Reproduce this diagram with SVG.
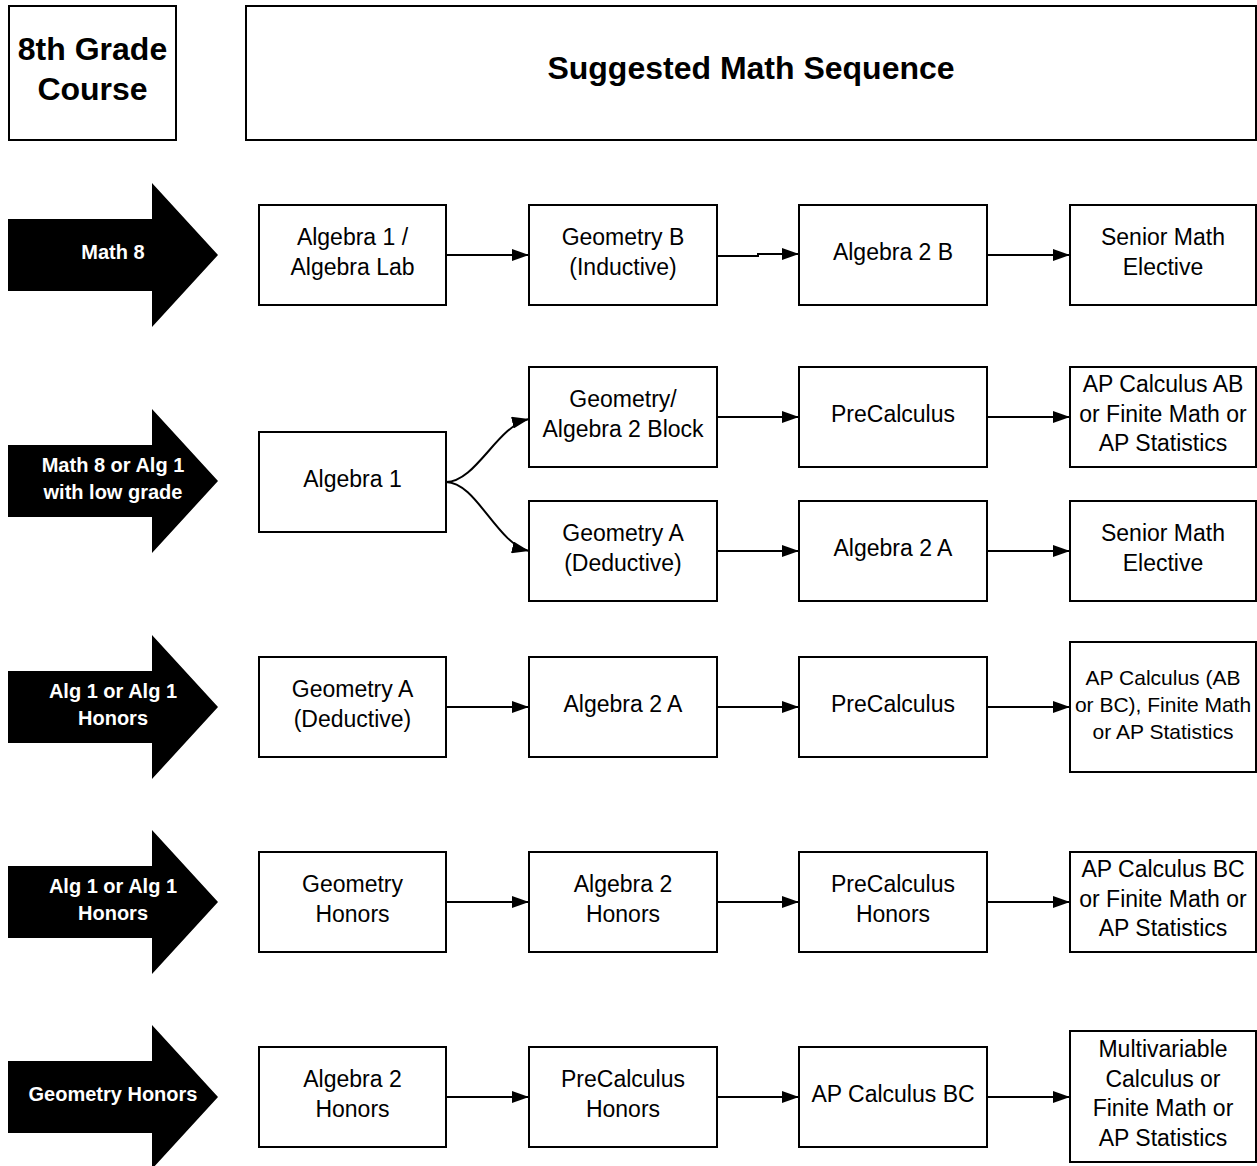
<svg xmlns="http://www.w3.org/2000/svg" width="1257" height="1166" viewBox="0 0 1257 1166">
<defs>
<marker id="ah" markerUnits="userSpaceOnUse" markerWidth="17" markerHeight="12" refX="17" refY="6" orient="auto">
<path d="M0,0 L17,6 L0,12 z" fill="#000"/>
</marker>
</defs>
<style>
.box{fill:#fff;stroke:#000;stroke-width:2}
.t{font-family:"Liberation Sans",Arial,sans-serif;font-size:23px;fill:#000;text-anchor:middle}
.ts{font-family:"Liberation Sans",Arial,sans-serif;font-size:21px;fill:#000;text-anchor:middle}
.h{font-family:"Liberation Sans",Arial,sans-serif;font-size:32px;font-weight:bold;fill:#000;text-anchor:middle}
.al{font-family:"Liberation Sans",Arial,sans-serif;font-size:20px;font-weight:bold;fill:#fff;text-anchor:middle}
.arr{fill:#000}
.c{fill:none;stroke:#000;stroke-width:2;marker-end:url(#ah)}
</style>
<rect width="1257" height="1166" fill="#fff"/>

<g id="hdr-course">
<rect class="box" x="9" y="6" width="167" height="134"/>
<text class="h" x="92.5" y="60">8th Grade</text>
<text class="h" x="92.5" y="100">Course</text>
</g>
<g id="hdr-seq">
<rect class="box" x="246" y="6" width="1010" height="134"/>
<text class="h" x="751" y="79">Suggested Math Sequence</text>
</g>

<g id="start1">
<path class="arr" d="M8,219 H152 V183 L218,255 L152,327 V291 H8 z"/>
<text class="al" x="113" y="259">Math 8</text>
</g>
<g id="start2">
<path class="arr" d="M8,445 H152 V409 L218,481 L152,553 V517 H8 z"/>
<text class="al" x="113" y="471.5">Math 8 or Alg 1</text>
<text class="al" x="113" y="498.5">with low grade</text>
</g>
<g id="start3">
<path class="arr" d="M8,671 H152 V635 L218,707 L152,779 V743 H8 z"/>
<text class="al" x="113" y="698">Alg 1 or Alg 1</text>
<text class="al" x="113" y="725">Honors</text>
</g>
<g id="start4">
<path class="arr" d="M8,866 H152 V830 L218,902 L152,974 V938 H8 z"/>
<text class="al" x="113" y="893">Alg 1 or Alg 1</text>
<text class="al" x="113" y="920">Honors</text>
</g>
<g id="start5">
<path class="arr" d="M8,1061 H152 V1025 L218,1097 L152,1169 V1133 H8 z"/>
<text class="al" x="113" y="1101">Geometry Honors</text>
</g>

<!-- Row 1 -->
<g id="r1c1"><rect class="box" x="259" y="205" width="187" height="100"/>
<text class="t" x="352.5" y="245">Algebra 1 /</text><text class="t" x="352.5" y="274.5">Algebra Lab</text></g>
<g id="r1c2"><rect class="box" x="529" y="205" width="188" height="100"/>
<text class="t" x="623" y="245">Geometry B</text><text class="t" x="623" y="274.5">(Inductive)</text></g>
<g id="r1c3"><rect class="box" x="799" y="205" width="188" height="100"/>
<text class="t" x="893" y="260">Algebra 2 B</text></g>
<g id="r1c4"><rect class="box" x="1070" y="205" width="186" height="100"/>
<text class="t" x="1163" y="245">Senior Math</text><text class="t" x="1163" y="274.5">Elective</text></g>

<!-- Row 2 -->
<g id="r2c1"><rect class="box" x="259" y="432" width="187" height="100"/>
<text class="t" x="352.5" y="487">Algebra 1</text></g>
<g id="r2c2a"><rect class="box" x="529" y="367" width="188" height="100"/>
<text class="t" x="623" y="407">Geometry/</text><text class="t" x="623" y="436.5">Algebra 2 Block</text></g>
<g id="r2c3a"><rect class="box" x="799" y="367" width="188" height="100"/>
<text class="t" x="893" y="422">PreCalculus</text></g>
<g id="r2c4a"><rect class="box" x="1070" y="367" width="186" height="100"/>
<text class="t" x="1163" y="392">AP Calculus AB</text><text class="t" x="1163" y="421.5">or Finite Math or</text><text class="t" x="1163" y="451">AP Statistics</text></g>
<g id="r2c2b"><rect class="box" x="529" y="501" width="188" height="100"/>
<text class="t" x="623" y="541">Geometry A</text><text class="t" x="623" y="570.5">(Deductive)</text></g>
<g id="r2c3b"><rect class="box" x="799" y="501" width="188" height="100"/>
<text class="t" x="893" y="556">Algebra 2 A</text></g>
<g id="r2c4b"><rect class="box" x="1070" y="501" width="186" height="100"/>
<text class="t" x="1163" y="541">Senior Math</text><text class="t" x="1163" y="570.5">Elective</text></g>

<!-- Row 3 -->
<g id="r3c1"><rect class="box" x="259" y="657" width="187" height="100"/>
<text class="t" x="352.5" y="697">Geometry A</text><text class="t" x="352.5" y="726.5">(Deductive)</text></g>
<g id="r3c2"><rect class="box" x="529" y="657" width="188" height="100"/>
<text class="t" x="623" y="712">Algebra 2 A</text></g>
<g id="r3c3"><rect class="box" x="799" y="657" width="188" height="100"/>
<text class="t" x="893" y="712">PreCalculus</text></g>
<g id="r3c4"><rect class="box" x="1070" y="642" width="186" height="130"/>
<text class="ts" x="1163" y="685">AP Calculus (AB</text><text class="ts" x="1163" y="712">or BC), Finite Math</text><text class="ts" x="1163" y="739">or AP Statistics</text></g>

<!-- Row 4 -->
<g id="r4c1"><rect class="box" x="259" y="852" width="187" height="100"/>
<text class="t" x="352.5" y="892">Geometry</text><text class="t" x="352.5" y="921.5">Honors</text></g>
<g id="r4c2"><rect class="box" x="529" y="852" width="188" height="100"/>
<text class="t" x="623" y="892">Algebra 2</text><text class="t" x="623" y="921.5">Honors</text></g>
<g id="r4c3"><rect class="box" x="799" y="852" width="188" height="100"/>
<text class="t" x="893" y="892">PreCalculus</text><text class="t" x="893" y="921.5">Honors</text></g>
<g id="r4c4"><rect class="box" x="1070" y="852" width="186" height="100"/>
<text class="t" x="1163" y="877">AP Calculus BC</text><text class="t" x="1163" y="906.5">or Finite Math or</text><text class="t" x="1163" y="936">AP Statistics</text></g>

<!-- Row 5 -->
<g id="r5c1"><rect class="box" x="259" y="1047" width="187" height="100"/>
<text class="t" x="352.5" y="1087">Algebra 2</text><text class="t" x="352.5" y="1116.5">Honors</text></g>
<g id="r5c2"><rect class="box" x="529" y="1047" width="188" height="100"/>
<text class="t" x="623" y="1087">PreCalculus</text><text class="t" x="623" y="1116.5">Honors</text></g>
<g id="r5c3"><rect class="box" x="799" y="1047" width="188" height="100"/>
<text class="t" x="893" y="1102">AP Calculus BC</text></g>
<g id="r5c4"><rect class="box" x="1070" y="1031" width="186" height="131"/>
<text class="t" x="1163" y="1057">Multivariable</text><text class="t" x="1163" y="1086.5">Calculus or</text><text class="t" x="1163" y="1116">Finite Math or</text><text class="t" x="1163" y="1145.5">AP Statistics</text></g>

<g id="connectors">
<path class="c" d="M446,255 H529"/>
<path class="c" d="M717,256 H758 V254 H799"/>
<path class="c" d="M987,255 H1070"/>
<path class="c" d="M446,482 C476,482 497,426 529,419"/>
<path class="c" d="M446,482 C476,482 497,544 529,551"/>
<path class="c" d="M717,417 H799"/>
<path class="c" d="M987,417 H1070"/>
<path class="c" d="M717,551 H799"/>
<path class="c" d="M987,551 H1070"/>
<path class="c" d="M446,707 H529"/>
<path class="c" d="M717,707 H799"/>
<path class="c" d="M987,707 H1070"/>
<path class="c" d="M446,902 H529"/>
<path class="c" d="M717,902 H799"/>
<path class="c" d="M987,902 H1070"/>
<path class="c" d="M446,1097 H529"/>
<path class="c" d="M717,1097 H799"/>
<path class="c" d="M987,1097 H1070"/>
</g>
</svg>
